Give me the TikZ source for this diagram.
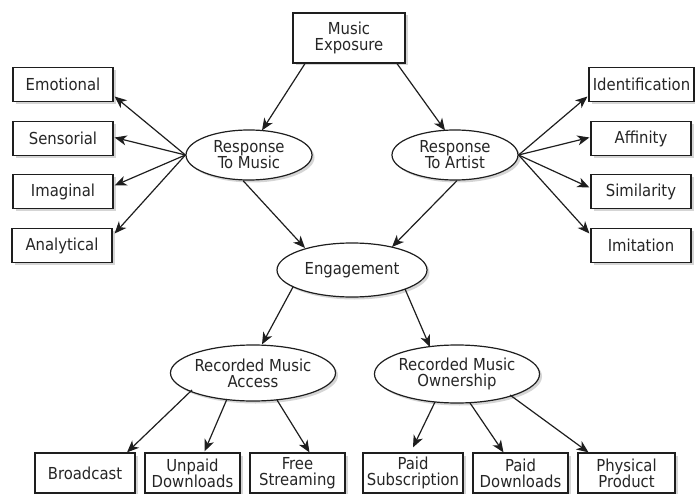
\documentclass[tikz,border=0pt]{standalone}
\usepackage{fontspec}
\setmainfont{DejaVu Sans Condensed}
\usetikzlibrary{shapes.geometric,arrows.meta,shadows,calc}
\definecolor{ink}{HTML}{1E1E1E}
\definecolor{txt}{HTML}{262626}
\tikzset{
  base/.style={draw=ink, line width=1.2pt, fill=white, text=txt, align=center,
    inner sep=0pt, font=\fontsize{16.5}{16}\selectfont,
    drop shadow={shadow xshift=2.5pt, shadow yshift=-2.5pt, fill=black!30, opacity=.55}},
  boxn/.style={base, rectangle, minimum height=34pt},
  ovaln/.style={base, ellipse},
  arr/.style={draw=ink, line width=1.2pt, -{Stealth[length=12pt,width=10pt,inset=3.5pt]}}
}
\begin{document}
\begin{tikzpicture}[x=1pt,y=-1pt]
\useasboundingbox (0,0) rectangle (695,494);
% top
\node[boxn, minimum width=112pt, minimum height=50pt] (me) at (349,38) {Music\\Exposure};
% left column
\node[boxn, minimum width=100pt] (em) at (63,84.5) {Emotional};
\node[boxn, minimum width=100pt] (sen) at (63,138.5) {Sensorial};
\node[boxn, minimum width=100pt] (ima) at (63,191.5) {Imaginal};
\node[boxn, minimum width=100pt] (ana) at (62,245.5) {Analytical};
% right column
\node[boxn, minimum width=105pt] (id) at (641.5,84.5) {Identification};
\node[boxn, minimum width=100pt] (aff) at (641,138.5) {Affinity};
\node[boxn, minimum width=100pt] (sim) at (641,191.5) {Similarity};
\node[boxn, minimum width=100pt] (imi) at (641,245.5) {Imitation};
% ellipses
\node[ovaln, minimum width=126pt, minimum height=50pt] (rtm) at (249,155) {Response\\To Music};
\node[ovaln, minimum width=126pt, minimum height=50pt] (rta) at (455,155) {Response\\To Artist};
\node[ovaln, minimum width=150pt, minimum height=54pt] (eng) at (352,270) {Engagement};
\node[ovaln, minimum width=154pt, minimum height=56pt] (rma) at (253,373) {Recorded Music\\Access};
\node[ovaln, minimum width=150pt, minimum height=58pt] (rmo) at (457,374) {Recorded Music\\Ownership};
% bottom row
\node[boxn, minimum width=100pt, minimum height=40pt] (bc) at (85,473) {Broadcast};
\node[boxn, minimum width=95pt, minimum height=40pt] (un) at (192.5,473) {Unpaid\\Downloads};
\node[boxn, minimum width=95pt, minimum height=40pt] (fs) at (297.5,473) {Free\\Streaming};
\node[boxn, minimum width=100pt, minimum height=40pt] (ps) at (413,473) {Paid\\Subscription};
\node[boxn, minimum width=95pt, minimum height=40pt] (pd) at (520.5,473) {Paid\\Downloads};
\node[boxn, minimum width=97pt, minimum height=40pt] (ph) at (626.5,473) {Physical\\Product};
% connectors
\draw[arr] ($(me.south)+(-44,0)$) -- ($(rtm.north)+(13,1)$);
\draw[arr] ($(me.south)+(48,0)$) -- ($(rta.north)+(-10,1)$);
\draw[arr] (rtm.west) -- ($(em.east)+(1,12)$);
\draw[arr] (rtm.west) -- ($(sen.east)+(1,-1)$);
\draw[arr] (rtm.west) -- ($(ima.east)+(1,-6)$);
\draw[arr] (rtm.west) -- ($(ana.east)+(2,-12)$);
\draw[arr] (rta.east) -- ($(id.west)+(-1,12)$);
\draw[arr] (rta.east) -- ($(aff.west)+(-1,-1)$);
\draw[arr] (rta.east) -- ($(sim.west)+(-1,-4)$);
\draw[arr] (rta.east) -- ($(imi.west)+(-1,-12)$);
\draw[arr] ($(rtm.south)+(-6,0)$) -- ($(eng.center)+(-47,-22)$);
\draw[arr] ($(rta.south)+(2,0)$) -- ($(eng.center)+(40,-23)$);
\draw[arr] ($(eng.center)+(-59,17)$) -- ($(rma.north)+(9,0)$);
\draw[arr] ($(eng.center)+(53,19)$) -- ($(rmo.center)+(-27,-27)$);
\draw[arr] ($(rma.center)+(-61,17)$) -- ($(bc.north)+(42,0)$);
\draw[arr] ($(rma.center)+(-26,26)$) -- ($(un.north)+(12,-1)$);
\draw[arr] ($(rma.center)+(24,27)$) -- ($(fs.north)+(12,0)$);
\draw[arr] ($(rmo.center)+(-22,28)$) -- ($(ps.north)+(0,-5)$);
\draw[arr] ($(rmo.center)+(13,29)$) -- ($(pd.north)+(-17,0)$);
\draw[arr] ($(rmo.center)+(53,21)$) -- ($(ph.north)+(-38,0)$);
\end{tikzpicture}
\end{document}
